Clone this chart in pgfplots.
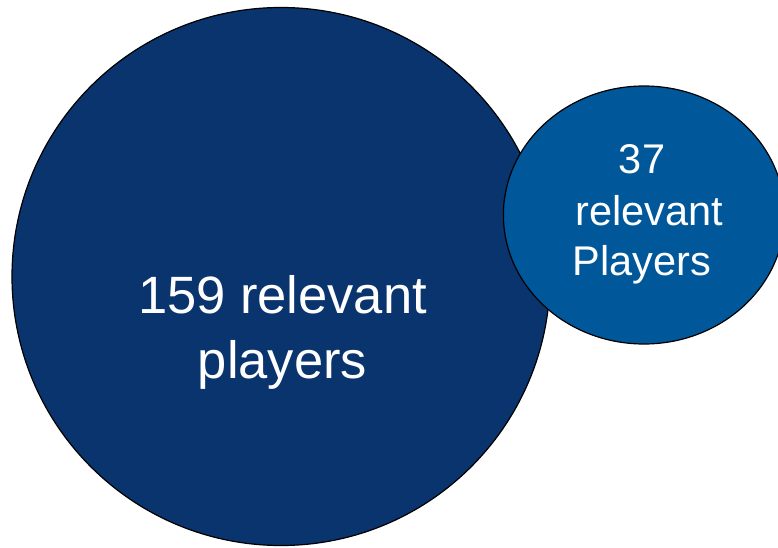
\documentclass[border=0pt]{standalone}
\usepackage{fontspec}
\setmainfont{Liberation Sans}
\usepackage{pgfplots}
\usepackage{pgfplotstable}
\pgfplotsset{compat=1.18}
\definecolor{bigblue}{RGB}{10,52,110}
\definecolor{smallblue}{RGB}{0,88,155}
% bubble centres and radii (1 unit = 1pt)
\pgfplotstableread{
x y r
281 270.5 269
}\bigtab
\pgfplotstableread{
x y r
644 332 129
}\smalltab
\begin{document}
\begin{tikzpicture}
\begin{axis}[width=778pt,height=547pt,scale only axis,
  xmin=0,xmax=778,ymin=0,ymax=547,hide axis,clip marker paths=true]
\addplot[scatter, only marks, mark=*,
  scatter/use mapped color={draw=black,fill=bigblue},
  mark options={line width=1.2pt},
  visualization depends on={\thisrow{r}\as\rad},
  scatter/@pre marker code/.append style={/tikz/mark size=\rad}]
  table[x=x,y=y] {\bigtab};
\addplot[scatter, only marks, mark=*,
  scatter/use mapped color={draw=black,fill=smallblue},
  mark options={line width=1.2pt, xscale=1.09},
  visualization depends on={\thisrow{r}\as\rad},
  scatter/@pre marker code/.append style={/tikz/mark size=\rad}]
  table[x=x,y=y] {\smalltab};
\node[anchor=base, text=white, font=\fontsize{52.5}{60}\selectfont, inner sep=0pt] at (axis cs:282.5,234) {159 relevant};
\node[anchor=base, text=white, font=\fontsize{52.5}{60}\selectfont, inner sep=0pt] at (axis cs:282.5,169) {players};
\node[anchor=base, text=white, font=\fontsize{41.5}{48}\selectfont, inner sep=0pt] at (axis cs:642,374) {37};
\node[anchor=base, text=white, font=\fontsize{41.5}{48}\selectfont, inner sep=0pt] at (axis cs:649,322) {relevant};
\node[anchor=base, text=white, font=\fontsize{41.5}{48}\selectfont, inner sep=0pt] at (axis cs:642,272) {Players};
\coordinate (ll) at (rel axis cs:0,0);
\coordinate (ur) at (rel axis cs:1,1);
\end{axis}
\pgfresetboundingbox
\useasboundingbox (ll) rectangle (ur);
\end{tikzpicture}
\end{document}
